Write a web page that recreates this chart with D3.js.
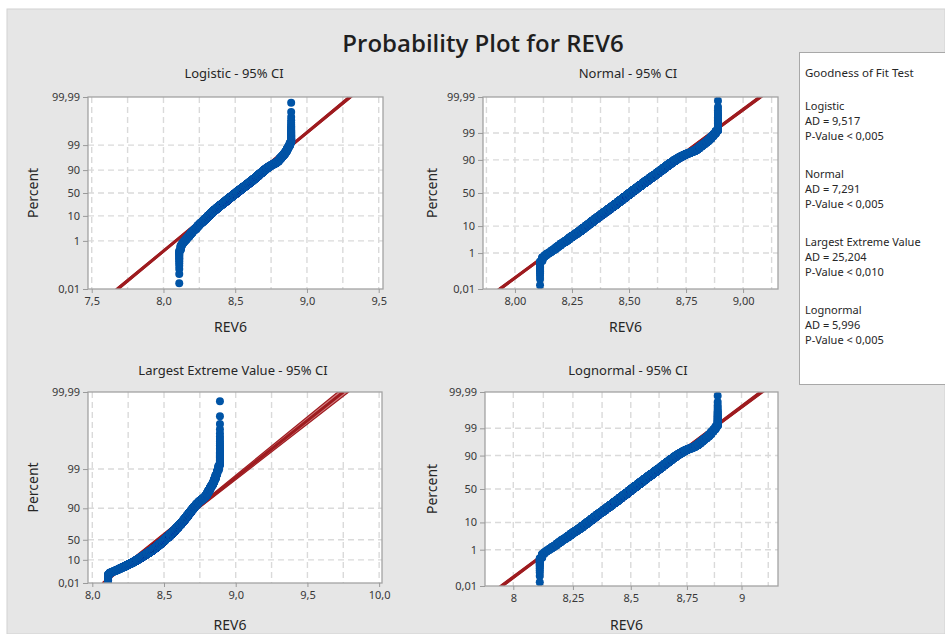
<!DOCTYPE html>
<html>
<head>
<meta charset="utf-8">
<script src="https://cdn.jsdelivr.net/npm/d3@7/dist/d3.min.js"></script>
<style>
  body { margin: 0; background: #fff; }
  svg text { font-family: "Noto Sans", "Open Sans", sans-serif; }
</style>
</head>
<body>
<svg id="chart" width="945" height="634"></svg>
<script>
var rev6Values = [
  8.11, 8.12, 8.13, 8.14, 8.15, 8.16, 8.17, 8.18, 8.19, 8.20,
  8.21, 8.22, 8.23, 8.24, 8.25, 8.26, 8.27, 8.28, 8.29, 8.30,
  8.31, 8.32, 8.33, 8.34, 8.35, 8.36, 8.37, 8.38, 8.39, 8.40,
  8.41, 8.42, 8.43, 8.44, 8.45, 8.46, 8.47, 8.48, 8.49, 8.50,
  8.51, 8.52, 8.53, 8.54, 8.55, 8.56, 8.57, 8.58, 8.59, 8.60,
  8.61, 8.62, 8.63, 8.64, 8.65, 8.66, 8.67, 8.68, 8.69, 8.70,
  8.71, 8.72, 8.73, 8.74, 8.75, 8.76, 8.77, 8.78, 8.79, 8.80,
  8.81, 8.82, 8.83, 8.84, 8.85, 8.86, 8.87, 8.88, 8.89
];
var rev6Counts = [
  16, 10, 6, 6, 6, 8, 8, 12, 12, 16,
  12, 16, 20, 24, 24, 24, 28, 32, 40, 40,
  48, 48, 56, 60, 64, 64, 68, 72, 76, 80,
  84, 88, 92, 100, 100, 100, 104, 108, 108, 108,
  108, 104, 104, 104, 100, 96, 96, 92, 88, 84,
  80, 76, 76, 72, 68, 64, 60, 52, 48, 44,
  36, 32, 28, 24, 20, 16, 16, 16, 20, 24,
  24, 20, 16, 16, 16, 16, 12, 12, 32
];

// percent axis ticks
var percentTicks = [0.01, 1, 10, 50, 90, 99, 99.99];
var percentTicksLev = [0.01, 10, 50, 90, 99, 99.99];

// x axis tick labels
var logisticXTicks = [7.5, 8.0, 8.5, 9.0, 9.5];
var normalXTicks = [8.00, 8.25, 8.50, 8.75, 9.00];
var levXTicks = [8.0, 8.5, 9.0, 9.5, 10.0];
var lognormalXTicks = [8, 8.25, 8.5, 8.75, 9];

// fitted line and 95% CI, REV6 at these percents
var ciLevels = [0.01, 50, 99.99];
var logisticFit = [7.680, 8.490, 9.300];
var logisticLower = [7.668, 8.485, 9.287];
var logisticUpper = [7.692, 8.495, 9.313];
var normalFit = [7.934, 8.504, 9.075];
var normalLower = [7.926, 8.500, 9.066];
var normalUpper = [7.942, 8.508, 9.084];
var levFit = [8.077, 8.454, 9.750];
var levLower = [8.070, 8.448, 9.712];
var levUpper = [8.084, 8.460, 9.788];
var lognormalFit = [7.952, 8.503, 9.093];
var lognormalLower = [7.944, 8.499, 9.082];
var lognormalUpper = [7.960, 8.507, 9.104];

// goodness of fit box
var gofNames = ['Logistic', 'Normal', 'Largest Extreme Value', 'Lognormal'];
var gofAD = ['9,517', '7,291', '25,204', '5,996'];
var gofP = ['0,005', '0,005', '0,010', '0,005'];

var svg = d3.select('#chart');
var BLUE = '#0054a6', RED = '#9e1b1f';

function comma(s) { return String(s).replace('.', ','); }

// inverse standard normal cdf (Acklam)
function probit(p) {
  var a = [-3.969683028665376e+01, 2.209460984245205e+02, -2.759285104469687e+02, 1.383577518672690e+02, -3.066479806614716e+01, 2.506628277459239e+00];
  var b = [-5.447609879822406e+01, 1.615858368580409e+02, -1.556989798598866e+02, 6.680131188771972e+01, -1.328068155288572e+01];
  var c = [-7.784894002430293e-03, -3.223964580411365e-01, -2.400758277161838e+00, -2.549732539343734e+00, 4.374664141464968e+00, 2.938163982698783e+00];
  var d = [7.784695709041462e-03, 3.224671290700398e-01, 2.445134137142996e+00, 3.754408661907416e+00];
  var q, r;
  if (p < 0.02425) {
    q = Math.sqrt(-2 * Math.log(p));
    return (((((c[0]*q+c[1])*q+c[2])*q+c[3])*q+c[4])*q+c[5]) / ((((d[0]*q+d[1])*q+d[2])*q+d[3])*q+1);
  }
  if (p > 1 - 0.02425) {
    q = Math.sqrt(-2 * Math.log(1 - p));
    return -(((((c[0]*q+c[1])*q+c[2])*q+c[3])*q+c[4])*q+c[5]) / ((((d[0]*q+d[1])*q+d[2])*q+d[3])*q+1);
  }
  q = p - 0.5; r = q * q;
  return (((((a[0]*r+a[1])*r+a[2])*r+a[3])*r+a[4])*r+a[5])*q / (((((b[0]*r+b[1])*r+b[2])*r+b[3])*r+b[4])*r+1);
}
function logit(p) { return Math.log(p / (1 - p)); }
function gumbel(p) { return -Math.log(-Math.log(p)); }

// expand the frequency table, median-rank plotting positions
var sample = [];
rev6Values.forEach(function (v, i) {
  for (var k = 0; k < rev6Counts[i]; k++) sample.push(v);
});
var n = sample.length;
var points = sample.map(function (v, i) { return { v: v, p: (i + 1 - 0.3) / (n + 0.4) }; });

// page background
svg.append('rect').attr('x', 7).attr('y', 9).attr('width', 938).attr('height', 625)
  .attr('fill', '#e6e6e6').attr('stroke', '#d2d2d2');

svg.append('text').attr('x', 483).attr('y', 52).attr('text-anchor', 'middle')
  .attr('font-size', 24).attr('font-weight', 600).attr('fill', '#1f1f1f')
  .style('font-family', '"Open Sans", "Noto Sans", sans-serif')
  .text('Probability Plot for REV6');

var panels = [
  { title: 'Logistic - 95% CI', t: logit, pTicks: percentTicks, xTicks: logisticXTicks, fmt: function (d) { return comma(d.toFixed(1)); },
    grid: d3.range(7.5, 9.51, 0.25), fit: logisticFit, lo: logisticLower, hi: logisticUpper,
    left: 88, right: 383, top: 97, bottom: 289, xDomain: [7.474, 9.53], titleX: 234, titleY: 78, xLabY: 332, yLabX: 33 },
  { title: 'Normal - 95% CI', t: probit, pTicks: percentTicks, xTicks: normalXTicks, fmt: function (d) { return comma(d.toFixed(2)); },
    grid: d3.range(7.875, 9.13, 0.125), fit: normalFit, lo: normalLower, hi: normalUpper,
    left: 483, right: 778, top: 97, bottom: 289, xDomain: [7.86, 9.153], titleX: 628, titleY: 78, xLabY: 332, yLabX: 432 },
  { title: 'Largest Extreme Value - 95% CI', t: gumbel, pTicks: percentTicksLev, xTicks: levXTicks, fmt: function (d) { return comma(d.toFixed(1)); },
    grid: d3.range(8, 10.01, 0.25), fit: levFit, lo: levLower, hi: levUpper,
    left: 88, right: 382, top: 392, bottom: 583, xDomain: [7.97, 10.02], titleX: 233, titleY: 375, xLabY: 630, yLabX: 33 },
  { title: 'Lognormal - 95% CI', t: probit, pTicks: percentTicks, xTicks: lognormalXTicks, fmt: function (d) { return comma(d); },
    grid: d3.range(8, 9.13, 0.125), fit: lognormalFit, lo: lognormalLower, hi: lognormalUpper, log: true,
    left: 485, right: 778, top: 392, bottom: 586, xDomain: [7.884, 9.171], titleX: 628, titleY: 375, xLabY: 630, yLabX: 432 }
];

panels.forEach(function (cfg, idx) {
  var g = svg.append('g');
  var x = (cfg.log ? d3.scaleLog() : d3.scaleLinear()).domain(cfg.xDomain).range([cfg.left, cfg.right]);
  var y = d3.scaleLinear().domain([cfg.t(0.0001), cfg.t(0.9999)]).range([cfg.bottom, cfg.top]);
  var w = cfg.right - cfg.left, h = cfg.bottom - cfg.top;

  g.append('rect').attr('x', cfg.left).attr('y', cfg.top).attr('width', w).attr('height', h).attr('fill', '#fff');

  var clipId = 'clip' + idx;
  g.append('clipPath').attr('id', clipId).append('rect')
    .attr('x', cfg.left).attr('y', cfg.top).attr('width', w).attr('height', h);

  // grid
  g.append('g').selectAll('line').data(cfg.grid).enter().append('line')
    .attr('x1', function (d) { return x(d); }).attr('x2', function (d) { return x(d); })
    .attr('y1', cfg.top).attr('y2', cfg.bottom)
    .attr('stroke', '#dadada').attr('stroke-width', 1.4).attr('stroke-dasharray', '6,4');
  g.append('g').selectAll('line').data(cfg.pTicks.slice(1, -1)).enter().append('line')
    .attr('x1', cfg.left).attr('x2', cfg.right)
    .attr('y1', function (d) { return y(cfg.t(d / 100)); }).attr('y2', function (d) { return y(cfg.t(d / 100)); })
    .attr('stroke', '#dadada').attr('stroke-width', 1.4).attr('stroke-dasharray', '6,4');

  // fit with CI band
  var ci = ciLevels.map(function (p, i) { return { p: p / 100, f: cfg.fit[i], lo: cfg.lo[i], hi: cfg.hi[i] }; });
  var plot = g.append('g').attr('clip-path', 'url(#' + clipId + ')');
  plot.append('path').datum(ci)
    .attr('d', d3.area().y(function (d) { return y(cfg.t(d.p)); })
      .x0(function (d) { return x(d.lo); }).x1(function (d) { return x(d.hi); }))
    .attr('fill', '#c4565a').attr('fill-opacity', 0.75).attr('stroke', RED).attr('stroke-width', 1.2);
  plot.append('path').datum(ci)
    .attr('d', d3.line().x(function (d) { return x(d.f); }).y(function (d) { return y(cfg.t(d.p)); }))
    .attr('fill', 'none').attr('stroke', RED).attr('stroke-width', 3);

  // data points
  plot.append('g').selectAll('circle').data(points).enter().append('circle')
    .attr('cx', function (d) { return x(d.v); })
    .attr('cy', function (d) { return y(cfg.t(d.p)); })
    .attr('r', 4).attr('fill', BLUE);

  g.append('rect').attr('x', cfg.left).attr('y', cfg.top).attr('width', w).attr('height', h)
    .attr('fill', 'none').attr('stroke', '#a3a3a3').attr('stroke-width', 1.3);

  // axes
  var yAxis = d3.axisLeft(y)
    .tickValues(cfg.pTicks.map(function (p) { return cfg.t(p / 100); }))
    .tickFormat(function (d, i) { return comma(cfg.pTicks[i]); })
    .tickSize(5).tickPadding(3);
  var ya = g.append('g').attr('transform', 'translate(' + cfg.left + ',0)').call(yAxis);

  var xAxis = d3.axisBottom(x).tickValues(cfg.xTicks).tickFormat(cfg.fmt).tickSize(4).tickPadding(4);
  var xa = g.append('g').attr('transform', 'translate(0,' + cfg.bottom + ')').call(xAxis);

  [ya, xa].forEach(function (a) {
    a.select('.domain').remove();
    a.selectAll('line').attr('stroke', '#9a9a9a');
    a.selectAll('text').attr('fill', '#383838').attr('font-size', 11).style('font-family', '"Noto Sans", sans-serif');
  });

  g.append('text').attr('x', cfg.titleX).attr('y', cfg.titleY).attr('text-anchor', 'middle')
    .attr('font-size', 13).attr('fill', '#262626').text(cfg.title);
  g.append('text').attr('x', (cfg.left + cfg.right) / 2 - 5).attr('y', cfg.xLabY).attr('text-anchor', 'middle')
    .attr('font-size', 14).attr('fill', '#262626').text('REV6');
  g.append('text').attr('transform', 'translate(' + (cfg.yLabX + 5) + ',' + ((cfg.top + cfg.bottom) / 2) + ') rotate(-90)')
    .attr('text-anchor', 'middle').attr('font-size', 14).attr('fill', '#262626').text('Percent');
});

// goodness of fit box
var box = svg.append('g');
box.append('rect').attr('x', 799.5).attr('y', 52.5).attr('width', 160).attr('height', 332)
  .attr('fill', '#fff').attr('stroke', '#a8a8a8');
box.append('text').attr('x', 805).attr('y', 77).attr('font-size', 11.5).attr('fill', '#262626').text('Goodness of Fit Test');
gofNames.forEach(function (name, i) {
  var y0 = 110 + i * 67.9;
  var lines = [name, 'AD = ' + gofAD[i], 'P-Value < ' + gofP[i]];
  box.selectAll(null).data(lines).enter().append('text')
    .attr('x', 805).attr('y', function (d, k) { return y0 + k * 15; })
    .attr('font-size', 11).attr('fill', '#262626').text(function (d) { return d; });
});
</script>
</body>
</html>
